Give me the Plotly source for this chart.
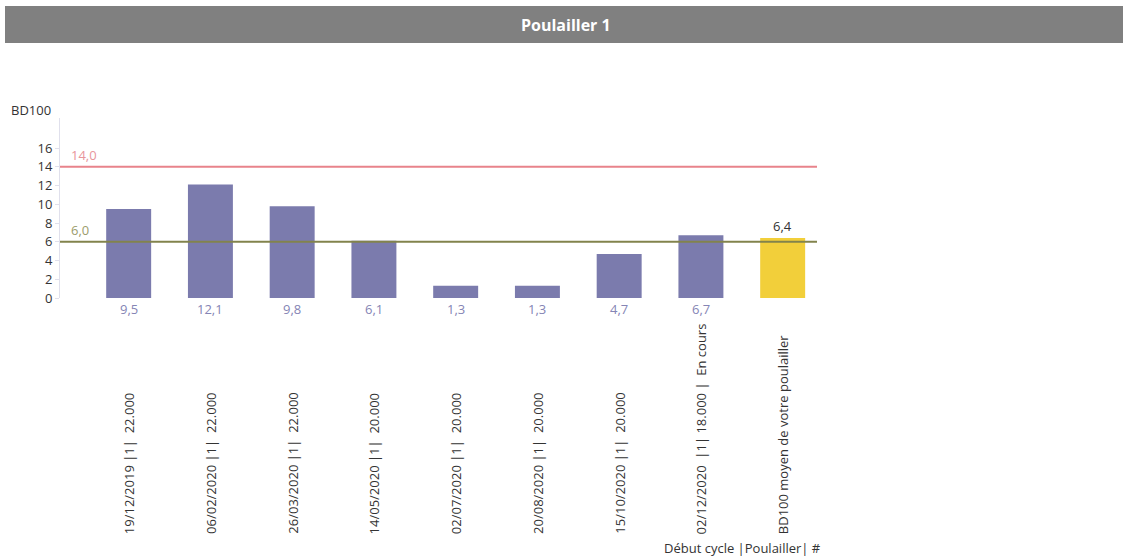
import plotly.graph_objects as go

categories = [
    "19/12/2019 |1|  22.000",
    "06/02/2020 |1|  22.000",
    "26/03/2020 |1|  22.000",
    "14/05/2020 |1|  20.000",
    "02/07/2020 |1|  20.000",
    "20/08/2020 |1|  20.000",
    "15/10/2020 |1|  20.000",
    "02/12/2020  |1| 18.000 |  En cours",
    "BD100 moyen de votre poulailler",
]
values = [9.5, 12.1, 9.8, 6.1, 1.3, 1.3, 4.7, 6.7, 6.4]
bar_colors = ["#7b7bad"] * 8 + ["#f2cf3a"]
threshold_values = [14.0, 6.0]
threshold_colors = ["#e8838b", "#82834c"]
threshold_label_colors = ["#e8959b", "#9c9c6c"]
y_ticks = [0, 2, 4, 6, 8, 10, 12, 14, 16]

W, H = 1123, 556
L, R, T, B = 60, 817, 118, 298


def px_x(p):
    return (p - L) / (R - L)


def px_y(p):
    return (B - p) / (B - T)


def fmt(v):
    return f"{v:.1f}".replace(".", ",")


FONT = "Open Sans"
xs = list(range(len(categories)))
fig = go.Figure()
fig.add_trace(go.Bar(x=xs, y=values, marker=dict(color=bar_colors, line=dict(width=0)),
                     width=0.55, hoverinfo="skip"))

# threshold lines
for tv, tc, lc in zip(threshold_values, threshold_colors, threshold_label_colors):
    fig.add_shape(type="line", xref="paper", x0=0, x1=1, yref="y", y0=tv, y1=tv,
                  line=dict(color=tc, width=2.2), layer="above")
    fig.add_annotation(xref="paper", x=px_x(69), yref="y", y=tv, text=fmt(tv),
                       showarrow=False, xanchor="left", yanchor="bottom", yshift=1,
                       font=dict(family=FONT, size=13, color=lc))

# value labels
for i, v in enumerate(values):
    if i < len(values) - 1:
        fig.add_annotation(x=i, y=0, text=fmt(v), showarrow=False, yanchor="top",
                           yshift=0, font=dict(family=FONT, size=13, color="#8585b5"))
    else:
        fig.add_annotation(x=i, y=v, text=fmt(v), showarrow=False, yanchor="bottom",
                           yshift=1, font=dict(family=FONT, size=13, color="#333333"))

# category labels (rotated, bottom aligned)
for i, c in enumerate(categories):
    fig.add_annotation(x=i, xref="x", y=px_y(536), yref="paper", text=c.replace("  ", "\u00a0 "),
                       textangle=-90, showarrow=False, yanchor="bottom", xanchor="center",
                       font=dict(family=FONT, size=13, color="#333333"))

# axis titles
fig.add_annotation(xref="paper", x=px_x(823), yref="paper", y=px_y(548),
                   text="Début cycle |Poulailler| #", showarrow=False, xanchor="right",
                   yanchor="middle", font=dict(family=FONT, size=13, color="#333333"))
fig.add_annotation(xref="paper", x=px_x(9), yref="paper", y=px_y(110),
                   text="BD100", showarrow=False, xanchor="left",
                   yanchor="middle", font=dict(family=FONT, size=13, color="#333333"))

# title banner
fig.add_shape(type="rect", xref="paper", yref="paper", x0=px_x(5), x1=px_x(1123),
              y0=px_y(43), y1=px_y(6), fillcolor="#808080", line=dict(width=0), layer="below")
fig.add_annotation(xref="paper", x=px_x(566), yref="paper", y=px_y(25),
                   text="<b>Poulailler 1</b>", showarrow=False, xanchor="center", yanchor="middle",
                   font=dict(family=FONT, size=16, color="#ffffff"))

fig.update_layout(
    width=W, height=H,
    margin=dict(l=L, r=W - R, t=T, b=H - B, pad=0),
    paper_bgcolor="white", plot_bgcolor="white",
    showlegend=False,
    bargap=0.45,
    xaxis=dict(range=[-0.84, 8.42], showticklabels=False, showgrid=False, zeroline=False,
               showline=False, ticks="", fixedrange=True),
    yaxis=dict(range=[0, 19.2], tickvals=y_ticks, ticktext=[str(t) for t in y_ticks],
               showgrid=False, zeroline=False, showline=True, linecolor="#e0e0ec", linewidth=1,
               ticks="outside", ticklen=4, tickcolor="#e0e0ec",
               tickfont=dict(family=FONT, size=13, color="#333333")),
)

fig.write_html("out.html", config={"displayModeBar": False},
               post_script="document.body.style.margin='0';document.body.style.overflow='hidden';")
